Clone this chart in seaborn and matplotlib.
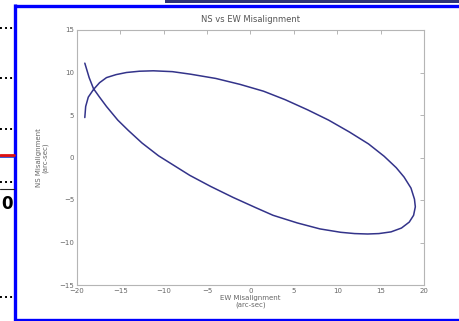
import matplotlib
matplotlib.use("Agg")
import matplotlib.pyplot as plt
import seaborn as sns
import pandas as pd
from matplotlib.patches import Rectangle
from matplotlib.lines import Line2D

# ---- data ----
ew_misalignment = [-19.1, -19.0, -18.7, -18.1, -17.4, -16.6, -15.5, -14.3, -12.8, -11.2,
                   -9.0, -6.9, -4.0, -1.2, 1.5, 4.0, 6.6, 9.0, 11.4, 13.6,
                   15.4, 16.8, 17.7, 18.5, 18.9, 19.0, 18.8, 18.3, 17.4, 16.2,
                   14.8, 13.5, 12.0, 10.4, 8.0, 5.4, 2.6, 0.6, -2.0, -4.6,
                   -7.0, -8.8, -10.6, -12.5, -14.1, -15.3, -16.6, -17.4, -18.1, -18.6,
                   -19.1]
ns_misalignment = [4.7, 6.0, 7.1, 8.0, 8.8, 9.4, 9.75, 10.0, 10.15, 10.2,
                   10.1, 9.8, 9.3, 8.6, 7.8, 6.8, 5.6, 4.4, 3.0, 1.6,
                   0.15, -1.2, -2.3, -3.6, -4.9, -5.8, -6.8, -7.6, -8.3, -8.75,
                   -8.95, -9.0, -8.95, -8.8, -8.4, -7.7, -6.8, -5.9, -4.7, -3.4,
                   -2.1, -0.95, 0.2, 1.7, 3.2, 4.4, 6.0, 7.1, 8.1, 9.4,
                   11.1]
x_ticks = [-20, -15, -10, -5, 0, 5, 10, 15, 20]
y_ticks = [-15, -10, -5, 0, 5, 10, 15]
title = "NS vs EW Misalignment"
x_label = "EW Misalignment\n(arc-sec)"
y_label = "NS Misalignment\n(arc-sec)"

df = pd.DataFrame({"ew": ew_misalignment, "ns": ns_misalignment})

sns.set_style("white")
W, H = 460, 321
fig = plt.figure(figsize=(W / 100, H / 100), dpi=100)
fig.patch.set_facecolor("white")

# slide decorations (figure pixel coordinates)
def fx(px):
    return px / W

def fy(py):
    return 1 - py / H

# dark top bar
fig.patches.append(Rectangle((fx(165), fy(3)), fx(460) - fx(165), 3 / H,
                             transform=fig.transFigure, facecolor="#2e3378",
                             edgecolor="none", zorder=0))
# blue frame: left, top, bottom edges (right edge lies outside the picture)
frame_kw = dict(transform=fig.transFigure, color="#0000ff", linewidth=2.4,
                solid_capstyle="butt")
fig.lines.append(Line2D([fx(15.5), fx(15.5)], [fy(4.3), fy(320.7)], **frame_kw))
fig.lines.append(Line2D([fx(14.3), fx(460)], [fy(5.5), fy(5.5)], **frame_kw))
fig.lines.append(Line2D([fx(14.3), fx(460)], [fy(319.5), fy(319.5)], **frame_kw))
# dotted lines on the left
for yy in [28, 78, 129, 182, 297]:
    fig.lines.append(Line2D([fx(0), fx(13)], [fy(yy), fy(yy)], transform=fig.transFigure,
                            color="black", linewidth=1.4, linestyle=(0, (1, 1.6))))
fig.lines.append(Line2D([fx(0), fx(14)], [fy(157), fy(157)], transform=fig.transFigure,
                        color="#1a3fd0", linewidth=1.2))
fig.lines.append(Line2D([fx(0), fx(14)], [fy(155), fy(155)], transform=fig.transFigure,
                        color="#e01010", linewidth=2.0))
fig.lines.append(Line2D([fx(0), fx(14)], [fy(189), fy(189)], transform=fig.transFigure,
                        color="#222222", linewidth=0.8))
fig.text(fx(7), fy(204), "0", ha="center", va="center", fontsize=12,
         fontweight="bold", color="black")

# axes
ax = fig.add_axes([fx(77), fy(285), fx(424) - fx(77), (285 - 30) / H])
sns.lineplot(data=df, x="ew", y="ns", sort=False, estimator=None, ax=ax,
             color="#33338a", linewidth=1.1)
ax.set_xlim(-20, 20)
ax.set_ylim(-15, 15)
ax.set_xticks(x_ticks)
ax.set_yticks(y_ticks)
ax.tick_params(direction="in", length=3, width=0.6, colors="#aaaaaa",
               labelcolor="#666666", labelsize=5, top=True, right=True, pad=2)
for s in ax.spines.values():
    s.set_visible(True)
    s.set_color("#b5b5b5")
    s.set_linewidth(0.8)
ax.set_title(title, fontsize=6, color="#555555", pad=6)
ax.set_xlabel(x_label, fontsize=5, color="#666666", labelpad=1, linespacing=1.0)
ax.set_ylabel(y_label, fontsize=5, color="#666666", labelpad=8, linespacing=1.0)

fig.savefig("out.png", dpi=100)
